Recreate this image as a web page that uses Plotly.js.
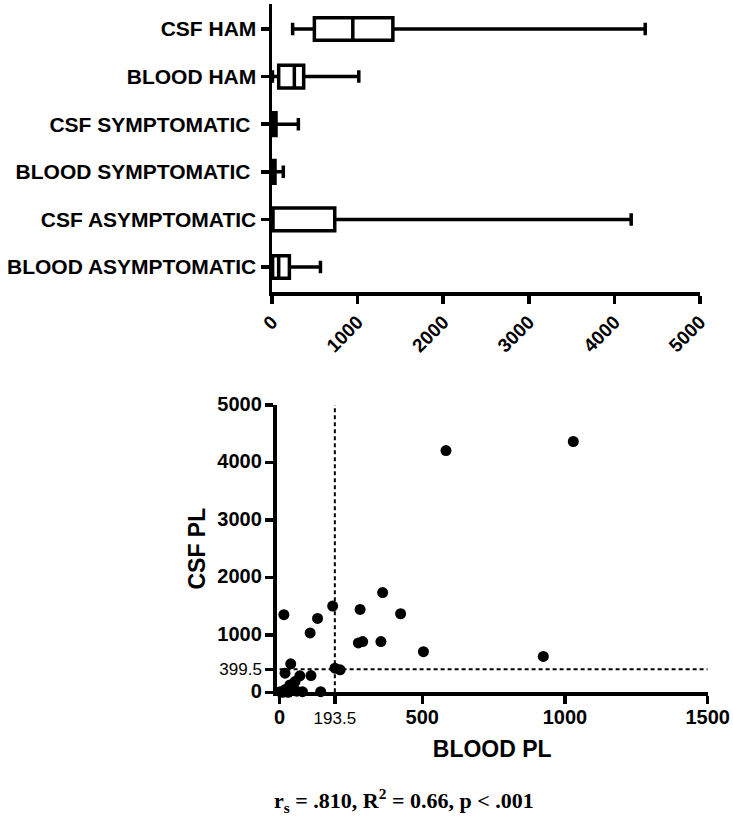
<!DOCTYPE html>
<html>
<head>
<meta charset="utf-8">
<script src="https://cdn.plot.ly/plotly-3.0.1.min.js"></script>
<style>html,body{margin:0;padding:0;background:#fff;}#chart{width:733px;height:821px;}</style>
</head>
<body>
<div id="chart"></div>
<script>
// ---- Box plot data (top panel), listed top to bottom ----
const groups = ["CSF HAM", "BLOOD HAM", "CSF SYMPTOMATIC\u00a0", "BLOOD SYMPTOMATIC\u00a0", "CSF ASYMPTOMATIC", "BLOOD ASYMPTOMATIC"];
const lowerWhisker = [241, 5, 0, 0, 0, 0];
const q1Values     = [495, 78, 0, 0, 0, 7];
const medianValues = [944, 261, 12, 12, 0, 78];
const q3Values     = [1412, 370, 47, 35, 733, 203];
const upperWhisker = [4360, 1014, 308, 132, 4196, 566];
const boxTicks = [0, 1000, 2000, 3000, 4000, 5000];

// ---- Scatter data (bottom panel) ----
const bloodPL = [15, 107, 133, 186, 282, 361, 424, 276, 291, 355, 504, 924, 194, 212, 39, 19, 71, 110, 54, 36, 144, 583, 1029, 2, 20, 40, 60, 80, 10, 30];
const csfPL   = [1350, 1034, 1285, 1501, 1443, 1735, 1367, 859, 882, 882, 706, 624, 420, 391, 496, 333, 286, 291, 186, 128, 10, 4207, 4365, 10, 50, 60, 20, 10, 0, 0];
const bloodThreshold = 193.5;
const csfThreshold = 399.5;
const scatterXTicks = [0, 193.5, 500, 1000, 1500];
const scatterYTicks = [0, 399.5, 1000, 2000, 3000, 4000, 5000];
const statsText = "r<sub>s</sub> = .810, R<sup>2</sup> = 0.66, p &lt; .001";

const FONT = "Arial, 'Liberation Sans', sans-serif";
const W = 733, H = 821;
const px2x = p => p / W;
const px2y = p => 1 - p / H;

function tickLabel(v){
  const special = (v === bloodThreshold || v === csfThreshold);
  return special ? String(v) : '<span style="font-size:20px"><b>' + v + '</b></span>';
}

const traces = [
  {
    type: 'box', orientation: 'h',
    y: groups,
    q1: q1Values, median: medianValues, q3: q3Values,
    lowerfence: lowerWhisker, upperfence: upperWhisker,
    boxpoints: false,
    fillcolor: '#ffffff',
    line: {color: '#000000', width: 3.5},
    whiskerwidth: 0.55,
    xaxis: 'x', yaxis: 'y',
    showlegend: false, hoverinfo: 'skip'
  },
  {
    type: 'scatter', mode: 'lines',
    x: [bloodThreshold, bloodThreshold], y: [0, 5000],
    line: {color: '#000', width: 2, dash: '4px,3px'},
    xaxis: 'x2', yaxis: 'y2', showlegend: false, hoverinfo: 'skip'
  },
  {
    type: 'scatter', mode: 'lines',
    x: [0, 1500], y: [csfThreshold, csfThreshold],
    line: {color: '#000', width: 2, dash: '4px,3px'},
    xaxis: 'x2', yaxis: 'y2', showlegend: false, hoverinfo: 'skip'
  },
  {
    type: 'scatter', mode: 'markers',
    x: bloodPL, y: csfPL,
    marker: {color: '#000', size: 11},
    cliponaxis: false,
    xaxis: 'x2', yaxis: 'y2', showlegend: false
  }
];

const layout = {
  width: W, height: H,
  margin: {l: 0, r: 0, t: 0, b: 0},
  paper_bgcolor: '#fff', plot_bgcolor: 'rgba(0,0,0,0)',
  font: {family: FONT, color: '#000'},
  boxgap: 0.32,
  xaxis: {
    domain: [px2x(272), px2x(700)],
    anchor: 'y',
    range: [0, 5000],
    tickvals: boxTicks,
    ticktext: boxTicks.map(String),
    tickangle: -45,
    tickfont: {size: 19, weight: 'bold', family: FONT},
    ticks: 'outside', ticklen: 8, tickwidth: 3.5, tickcolor: '#000',
    showline: true, linewidth: 3.5, linecolor: '#000',
    showgrid: false, zeroline: false
  },
  yaxis: {
    domain: [px2y(292), px2y(4)],
    anchor: 'x',
    type: 'category',
    categoryorder: 'array',
    categoryarray: groups.slice().reverse(),
    range: [-0.525, 5.525],
    tickfont: {size: 21, weight: 'bold', family: FONT},
    ticks: 'outside', ticklen: 8, tickwidth: 3.5, tickcolor: '#000',
    showline: true, linewidth: 3.5, linecolor: '#000',
    showgrid: false, zeroline: false
  },
  xaxis2: {
    domain: [px2x(276.75), px2x(707.7)],
    anchor: 'y2',
    range: [-10, 1500],
    tickvals: scatterXTicks,
    ticktext: scatterXTicks.map(tickLabel),
    tickangle: 0,
    tickfont: {size: 17, family: FONT},
    ticks: 'outside', ticklen: 8, tickwidth: 3.5, tickcolor: '#000',
    showline: true, linewidth: 3.5, linecolor: '#000',
    showgrid: false, zeroline: false,
    title: {text: 'BLOOD PL', font: {size: 23, weight: 'bold', family: FONT}, standoff: 14}
  },
  yaxis2: {
    domain: [px2y(692.3), px2y(405)],
    anchor: 'x2',
    range: [0, 5000],
    tickvals: scatterYTicks,
    ticktext: scatterYTicks.map(tickLabel),
    tickfont: {size: 17, family: FONT},
    ticks: 'outside', ticklen: 8, tickwidth: 3.5, tickcolor: '#000',
    showline: true, linewidth: 3.5, linecolor: '#000',
    showgrid: false, zeroline: false,
    title: {text: 'CSF PL', font: {size: 23, weight: 'bold', family: FONT}, standoff: 6}
  },
  annotations: [
    {
      xref: 'paper', yref: 'paper',
      x: px2x(404), y: px2y(800),
      xanchor: 'center', yanchor: 'middle',
      text: statsText, showarrow: false,
      font: {family: "'Liberation Serif', 'Times New Roman', serif", size: 22, weight: 'bold', color: '#000'}
    }
  ]
};

Plotly.newPlot('chart', traces, layout, {staticPlot: true, displayModeBar: false});
</script>
</body>
</html>
